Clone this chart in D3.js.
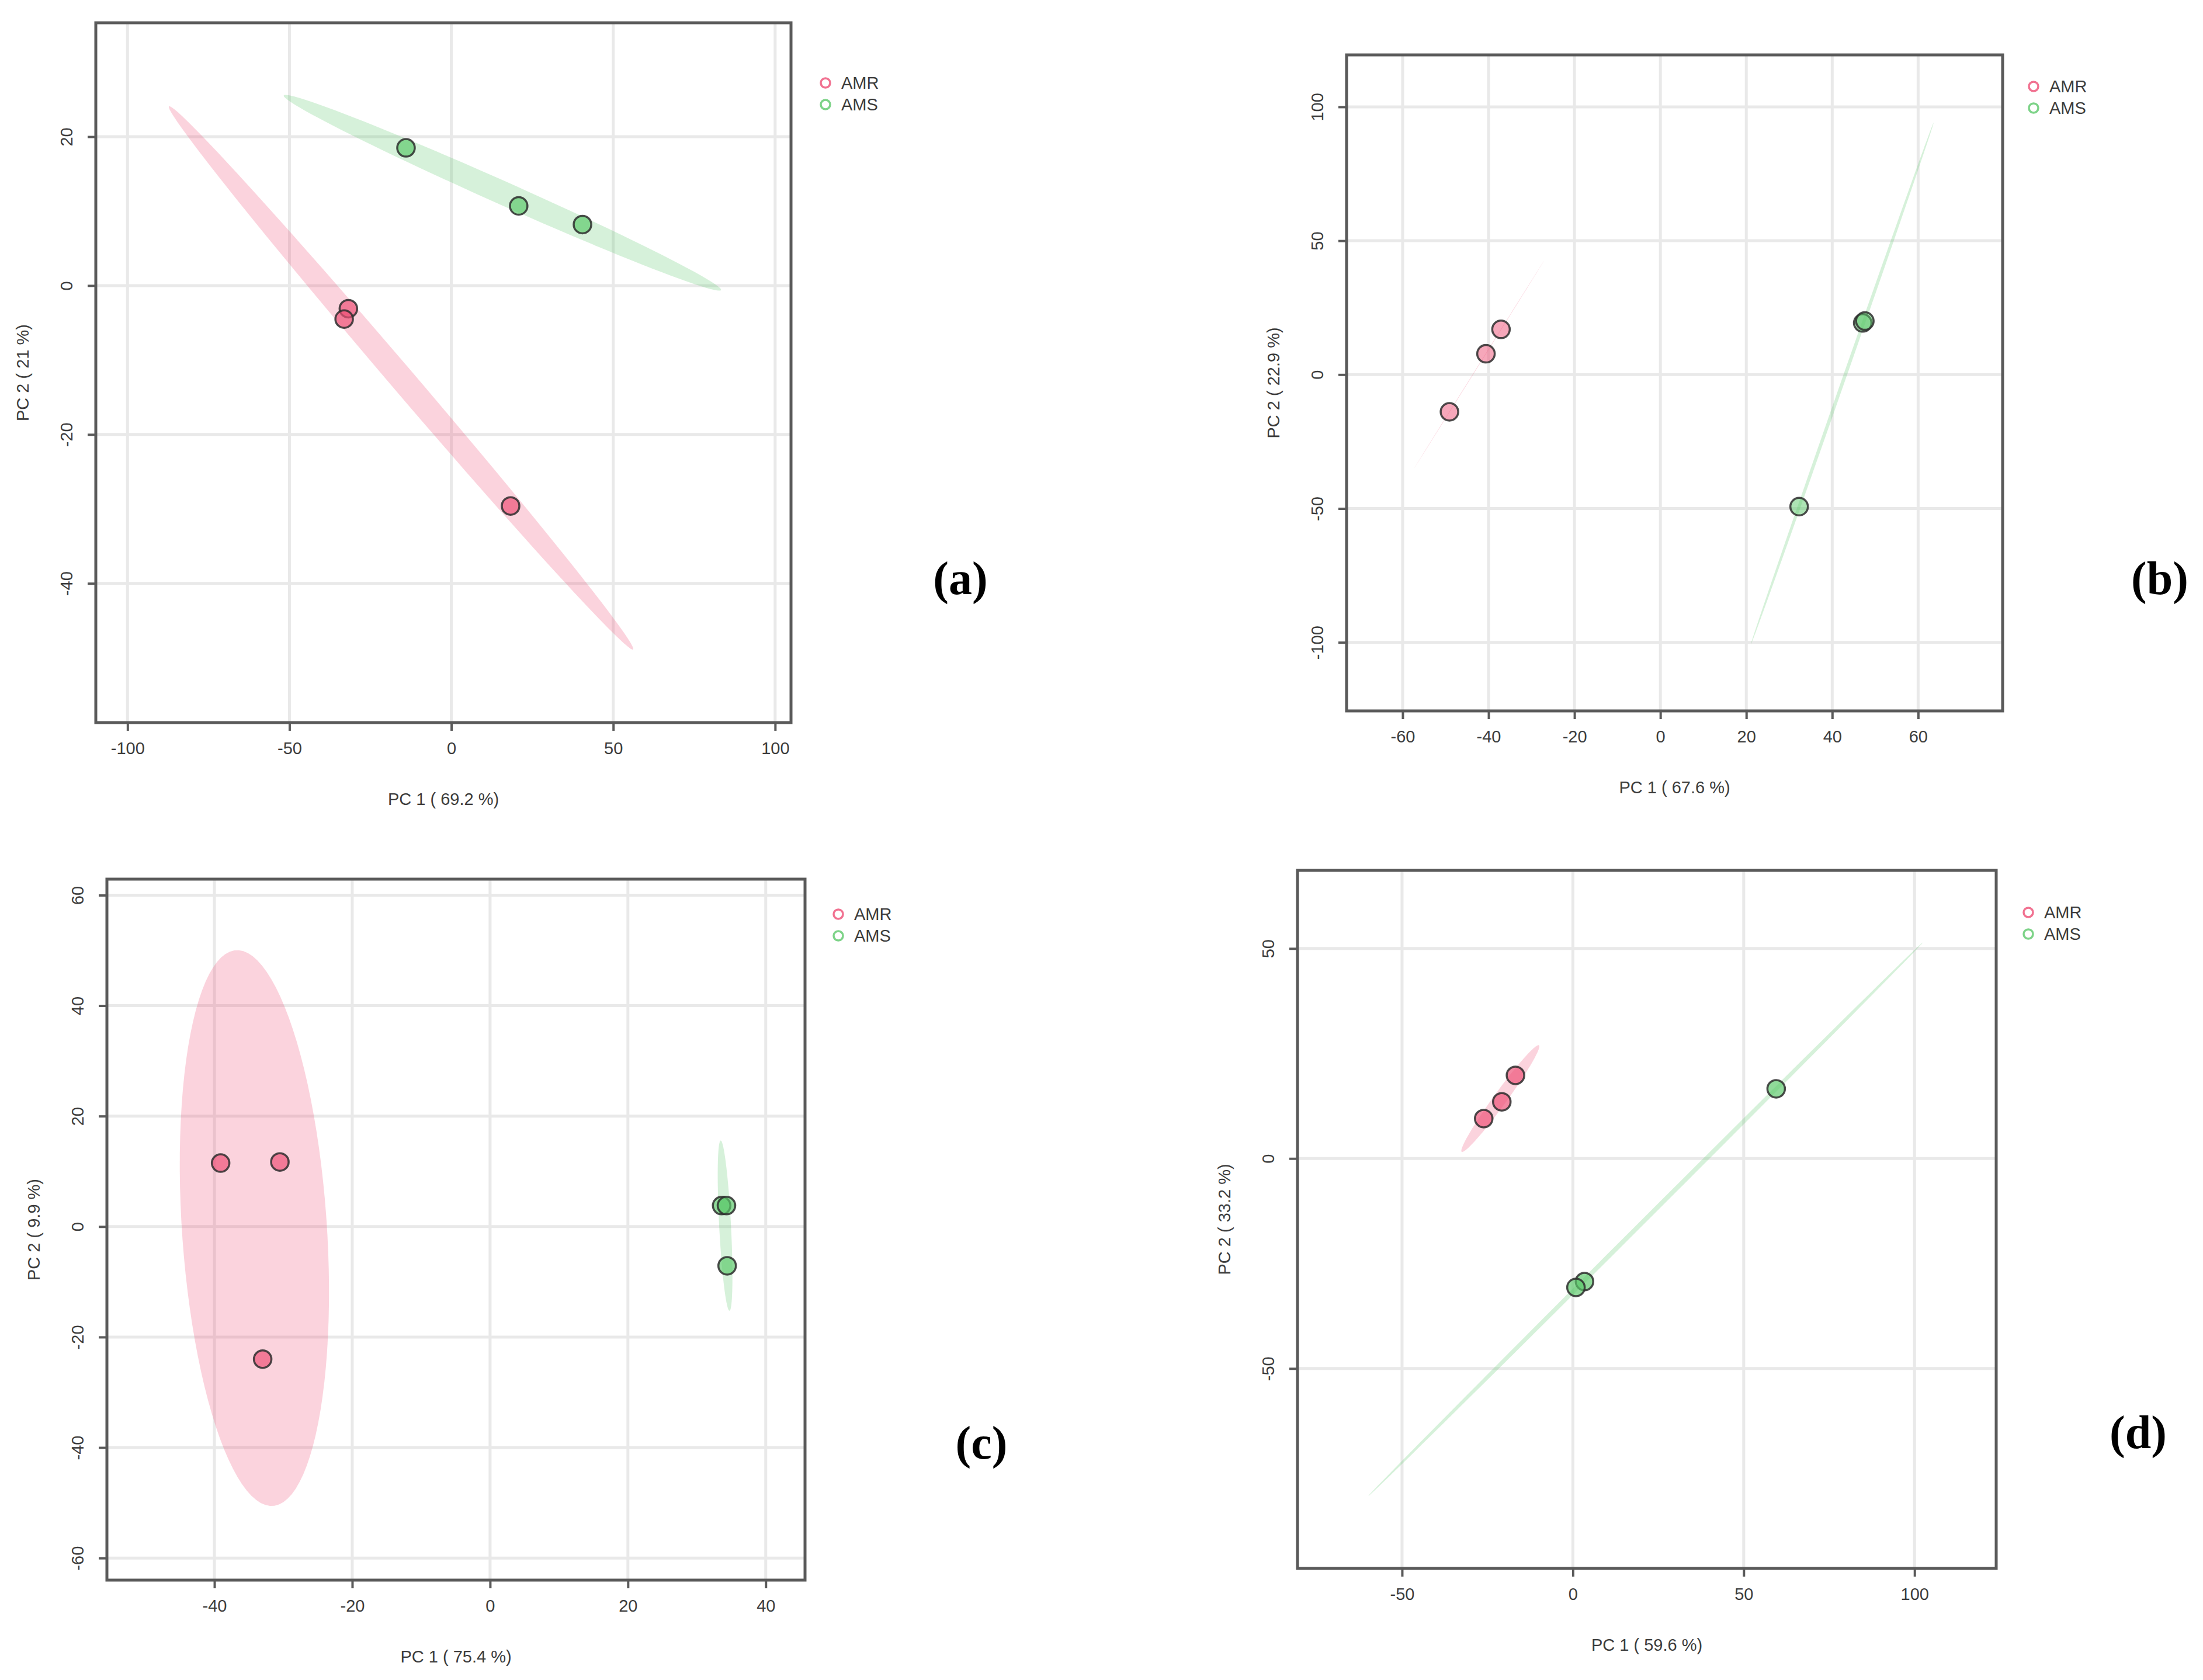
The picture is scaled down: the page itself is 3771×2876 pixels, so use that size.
<!DOCTYPE html>
<html lang="en">
<head>
  <meta charset="UTF-8" />
  <title>PCA score plots AMR vs AMS</title>
  <script src="https://cdn.jsdelivr.net/npm/d3@7/dist/d3.min.js"></script>
  <style>
    html, body { margin: 0; padding: 0; background: #fff; }
    svg { display: block; font-family: "Liberation Sans", Arial, sans-serif; }
  </style>
</head>
<body>
<div id="viz"></div>
<script>
// ---- values ----
const groups = ['AMR', 'AMS'];
const panelTags = ['(a)', '(b)', '(c)', '(d)'];
const xTitles = ['PC 1 ( 69.2 %)', 'PC 1 ( 67.6 %)', 'PC 1 ( 75.4 %)', 'PC 1 ( 59.6 %)'];
const yTitles = ['PC 2 ( 21 %)', 'PC 2 ( 22.9 %)', 'PC 2 ( 9.9 %)', 'PC 2 ( 33.2 %)'];

// panel (a)
const amrXA = [-31.8, -33.1, 18.3];
const amrYA = [-3.1, -4.5, -29.6];
const amsXA = [-14.0, 20.8, 40.5];
const amsYA = [18.5, 10.7, 8.2];
const xLimA = [-109.8, 104.9];
const yLimA = [-58.7, 35.3];
const xTicksA = [-100, -50, 0, 50, 100];
const yTicksA = [-40, -20, 0, 20];

// panel (b)
const amrXB = [-49.1, -40.6, -37.1];
const amrYB = [-13.9, 7.8, 16.9];
const amsXB = [47.1, 47.6, 32.3];
const amsYB = [19.3, 20.0, -49.3];
const xLimB = [-73.05, 79.67];
const yLimB = [-125.6, 119.4];
const xTicksB = [-60, -40, -20, 0, 20, 40, 60];
const yTicksB = [-100, -50, 0, 50, 100];

// panel (c)
const amrXC = [-39.1, -30.5, -33.0];
const amrYC = [11.5, 11.7, -24.0];
const amsXC = [33.6, 34.3, 34.4];
const amsYC = [3.8, 3.8, -7.1];
const xLimC = [-55.6, 45.7];
const yLimC = [-64.0, 62.9];
const xTicksC = [-40, -20, 0, 20, 40];
const yTicksC = [-60, -40, -20, 0, 20, 40, 60];

// panel (d)
const amrXD = [-26.1, -20.8, -16.8];
const amrYD = [9.5, 13.5, 19.8];
const amsXD = [59.5, 3.4, 0.9];
const amsYD = [16.6, -29.3, -30.7];
const xLimD = [-80.6, 123.9];
const yLimD = [-97.6, 68.6];
const xTicksD = [-50, 0, 50, 100];
const yTicksD = [-50, 0, 50];

// ---- layout (pixels on the page) ----
const W = 3771, H = 2876;
const panels = [
  { box: [164, 39, 1354, 1237],   legend: [1413, 142],  tag: [1644, 990],  ptAlpha: 0.68,
    amr: [amrXA, amrYA], ams: [amsXA, amsYA], xLim: xLimA, yLim: yLimA, xTicks: xTicksA, yTicks: yTicksA },
  { box: [2305, 94, 3428, 1217],  legend: [3481, 148],  tag: [3697, 990],  ptAlpha: 0.5,
    amr: [amrXB, amrYB], ams: [amsXB, amsYB], xLim: xLimB, yLim: yLimB, xTicks: xTicksB, yTicks: yTicksB },
  { box: [183, 1505, 1378, 2705], legend: [1435, 1565], tag: [1680, 2470], ptAlpha: 0.68,
    amr: [amrXC, amrYC], ams: [amsXC, amsYC], xLim: xLimC, yLim: yLimC, xTicks: xTicksC, yTicks: yTicksC },
  { box: [2221, 1490, 3417, 2685], legend: [3472, 1562], tag: [3660, 2452], ptAlpha: 0.68,
    amr: [amrXD, amrYD], ams: [amsXD, amsYD], xLim: xLimD, yLim: yLimD, xTicks: xTicksD, yTicks: yTicksD }
];
const groupColor = { AMR: '#ee4f76', AMS: '#5cc86a' };
const textColor = '#3c3c3c';
const frameColor = '#5a5a5a';
const tickFmt = d => String(d);   // plain hyphen, as in R output

// 95% confidence ellipse, same construction as R's ellipse::ellipse()
function confEllipse(xs, ys, level = 0.95, n = 100) {
  const t = Math.sqrt(-2 * Math.log(1 - level));
  const mx = d3.mean(xs), my = d3.mean(ys);
  const sx = d3.deviation(xs), sy = d3.deviation(ys);
  const cov = d3.sum(xs, (x, i) => (x - mx) * (ys[i] - my)) / (xs.length - 1);
  const r = Math.max(-0.99999, Math.min(0.99999, cov / (sx * sy)));
  const d = Math.acos(r);
  return d3.range(n).map(i => {
    const a = 2 * Math.PI * i / n;
    return [mx + t * sx * Math.cos(a + d / 2), my + t * sy * Math.cos(a - d / 2)];
  });
}

const svg = d3.select('#viz').append('svg')
  .attr('width', W).attr('height', H)
  .attr('viewBox', `0 0 ${W} ${H}`);
svg.append('rect').attr('width', W).attr('height', H).attr('fill', '#fff');

panels.forEach((p, k) => {
  const [x0, y0, x1, y1] = p.box;
  const x = d3.scaleLinear().domain(p.xLim).range([x0, x1]);
  const y = d3.scaleLinear().domain(p.yLim).range([y1, y0]);
  const g = svg.append('g');

  const clipId = 'clip' + k;
  g.append('clipPath').attr('id', clipId)
    .append('rect').attr('x', x0).attr('y', y0).attr('width', x1 - x0).attr('height', y1 - y0);

  // grid
  const grid = g.append('g').attr('stroke', '#e9e9e9').attr('stroke-width', 5);
  grid.selectAll('.vx').data(p.xTicks).enter().append('line')
    .attr('x1', d => x(d)).attr('x2', d => x(d)).attr('y1', y0).attr('y2', y1);
  grid.selectAll('.hy').data(p.yTicks).enter().append('line')
    .attr('y1', d => y(d)).attr('y2', d => y(d)).attr('x1', x0).attr('x2', x1);

  // ellipses
  const line = d3.line().x(d => x(d[0])).y(d => y(d[1])).curve(d3.curveLinearClosed);
  const plot = g.append('g').attr('clip-path', `url(#${clipId})`);
  [['AMR', p.amr], ['AMS', p.ams]].forEach(([name, xy]) => {
    plot.append('path')
      .datum(confEllipse(xy[0], xy[1]))
      .attr('d', line)
      .attr('fill', groupColor[name])
      .attr('fill-opacity', 0.25)
      .attr('stroke', 'none');
  });

  // points
  [['AMR', p.amr], ['AMS', p.ams]].forEach(([name, xy]) => {
    plot.selectAll('.pt-' + name).data(xy[0]).enter().append('circle')
      .attr('cx', d => x(d))
      .attr('cy', (d, i) => y(xy[1][i]))
      .attr('r', 15)
      .attr('fill', groupColor[name])
      .attr('fill-opacity', p.ptAlpha)
      .attr('stroke', '#2e2e2e')
      .attr('stroke-opacity', 0.85)
      .attr('stroke-width', 3.5);
  });

  // axes
  const ax = g.append('g')
    .attr('transform', `translate(0,${y1})`)
    .call(d3.axisBottom(x).tickValues(p.xTicks).tickSize(14).tickPadding(22).tickFormat(tickFmt));
  const ay = g.append('g')
    .attr('transform', `translate(${x0},0)`)
    .call(d3.axisLeft(y).tickValues(p.yTicks).tickSize(14).tickPadding(22).tickFormat(tickFmt));
  [ax, ay].forEach(a => {
    a.select('.domain').remove();
    a.selectAll('line').attr('stroke', frameColor).attr('stroke-width', 4);
    a.selectAll('text').attr('fill', textColor).attr('font-size', 29)
      .attr('font-family', '"Liberation Sans", Arial, sans-serif');
  });
  ax.selectAll('text').attr('y', 44).attr('dy', '0.35em');
  ay.selectAll('text')
    .attr('x', null).attr('dy', null)
    .attr('text-anchor', 'middle')
    .attr('dominant-baseline', 'central')
    .attr('transform', 'translate(-50,0) rotate(-90)');

  // frame
  g.append('rect')
    .attr('x', x0).attr('y', y0).attr('width', x1 - x0).attr('height', y1 - y0)
    .attr('fill', 'none').attr('stroke', frameColor).attr('stroke-width', 5);

  // axis titles
  g.append('text')
    .attr('x', (x0 + x1) / 2).attr('y', y1 + 131)
    .attr('text-anchor', 'middle').attr('dominant-baseline', 'central')
    .attr('font-size', 29).attr('fill', textColor)
    .text(xTitles[k]);
  g.append('text')
    .attr('transform', `translate(${x0 - 125},${(y0 + y1) / 2}) rotate(-90)`)
    .attr('text-anchor', 'middle').attr('dominant-baseline', 'central')
    .attr('font-size', 29).attr('fill', textColor)
    .text(yTitles[k]);

  // legend
  const lg = g.append('g').attr('transform', `translate(${p.legend[0]},${p.legend[1]})`);
  groups.forEach((name, i) => {
    lg.append('circle')
      .attr('cx', 0).attr('cy', i * 37).attr('r', 8)
      .attr('fill', 'none').attr('stroke', groupColor[name]).attr('stroke-opacity', 0.8)
      .attr('stroke-width', 3.5);
    lg.append('text')
      .attr('x', 27).attr('y', i * 37)
      .attr('dominant-baseline', 'central')
      .attr('font-size', 29).attr('fill', textColor)
      .text(name);
  });

  // panel tag
  g.append('text')
    .attr('x', p.tag[0]).attr('y', p.tag[1])
    .attr('text-anchor', 'middle').attr('dominant-baseline', 'central')
    .attr('font-family', '"Liberation Serif", "Times New Roman", serif')
    .attr('font-weight', 'bold').attr('font-size', 80).attr('fill', '#000')
    .text(panelTags[k]);
});
</script>
</body>
</html>
